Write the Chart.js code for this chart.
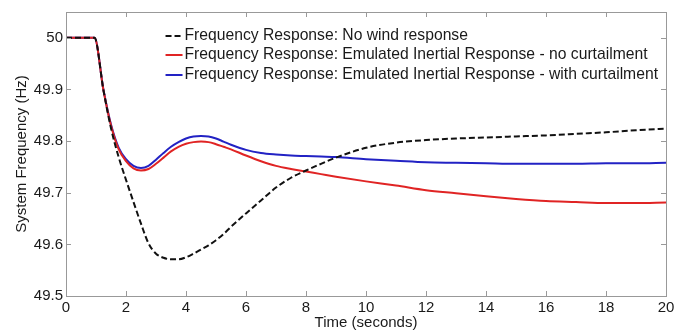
<!DOCTYPE html>
<html>
<head>
<meta charset="utf-8">
<script src="https://cdn.jsdelivr.net/npm/chart.js@4.4.1/dist/chart.umd.min.js"></script>
<style>
    html, body { margin: 0; padding: 0; background: #fff; }
    #wrap { width: 688px; height: 333px; }
</style>
</head>
<body>
<div id="wrap"><canvas id="freqChart"></canvas></div>
<script>
// time axis (s) shared by all three responses
var timeSec = [0, 0.95, 1.25, 1.5, 1.75, 2, 2.25, 2.5, 2.75, 3, 3.25, 3.5, 3.75, 4, 4.25, 4.5, 4.75,
    5, 5.25, 5.5, 6, 6.5, 7, 7.5, 8, 8.5, 9, 10, 11, 12, 13, 14, 15, 16, 17, 18, 19, 20];

var noWind = [50, 50, 49.898, 49.825, 49.770, 49.725, 49.682, 49.640, 49.602, 49.582, 49.574, 49.571, 49.571,
    49.575, 49.582, 49.590, 49.598, 49.608, 49.620, 49.634, 49.660, 49.685, 49.710, 49.729, 49.743, 49.756,
    49.768, 49.787, 49.797, 49.802, 49.805, 49.807, 49.809, 49.811, 49.814, 49.817, 49.821, 49.824];

var noCurtailment = [50, 50, 49.898, 49.830, 49.785, 49.761, 49.747, 49.743, 49.746, 49.756, 49.768, 49.780, 49.789,
    49.795, 49.798, 49.799, 49.798, 49.794, 49.789, 49.784, 49.772, 49.761, 49.752, 49.746, 49.741, 49.736,
    49.731, 49.722, 49.714, 49.705, 49.699, 49.693, 49.688, 49.684, 49.682, 49.680, 49.680, 49.681];

var withCurtailment = [50, 50, 49.899, 49.832, 49.788, 49.765, 49.752, 49.748, 49.752, 49.764, 49.777, 49.789, 49.798,
    49.805, 49.809, 49.810, 49.809, 49.805, 49.799, 49.793, 49.783, 49.777, 49.774, 49.772, 49.771, 49.770,
    49.769, 49.765, 49.762, 49.759, 49.758, 49.757, 49.756, 49.756, 49.756, 49.757, 49.757, 49.758];

var seriesLabels = [
    'Frequency Response: No wind response',
    'Frequency Response: Emulated Inertial Response - no curtailment',
    'Frequency Response: Emulated Inertial Response - with curtailment'
];

var yTickValues = [49.5, 49.6, 49.7, 49.8, 49.9, 50];

var FONT = "'Liberation Sans', Arial, sans-serif";

function toPoints(values) {
    return values.map(function (v, i) { return { x: timeSec[i], y: v }; });
}

// box around the plot with inward tick marks on all four sides
var axesBox = {
    id: 'axesBox',
    afterDatasetsDraw: function (chart) {
        var ctx = chart.ctx, a = chart.chartArea;
        var xs = chart.scales.x, ys = chart.scales.y;
        var len = 5;
        ctx.save();
        ctx.strokeStyle = '#999999';
        ctx.lineWidth = 1;
        ctx.strokeRect(Math.round(a.left) + 0.5, Math.round(a.top) + 0.5,
            Math.round(a.right - a.left), Math.round(a.bottom - a.top));
        ctx.beginPath();
        xs.ticks.forEach(function (t) {
            var px = Math.round(xs.getPixelForValue(t.value)) + 0.5;
            ctx.moveTo(px, a.bottom); ctx.lineTo(px, a.bottom - len);
            ctx.moveTo(px, a.top); ctx.lineTo(px, a.top + len);
        });
        ys.ticks.forEach(function (t) {
            var py = Math.round(ys.getPixelForValue(t.value)) + 0.5;
            ctx.moveTo(a.left, py); ctx.lineTo(a.left + len, py);
            ctx.moveTo(a.right, py); ctx.lineTo(a.right - len, py);
        });
        ctx.stroke();
        ctx.restore();
    }
};

// legend inside the top right corner, no frame
var insideLegend = {
    id: 'insideLegend',
    afterDraw: function (chart) {
        var ctx = chart.ctx, a = chart.chartArea;
        ctx.save();
        ctx.font = '15.7px ' + FONT;
        ctx.textBaseline = 'middle';
        ctx.fillStyle = '#1a1a1a';
        var maxW = 0;
        chart.data.datasets.forEach(function (ds) {
            maxW = Math.max(maxW, ctx.measureText(ds.label).width);
        });
        var textX = a.right - 8 - maxW;
        chart.data.datasets.forEach(function (ds, i) {
            var y = a.top + 23.5 + i * 19.5;
            ctx.beginPath();
            ctx.strokeStyle = ds.borderColor;
            ctx.lineWidth = ds.borderWidth;
            ctx.setLineDash(ds.borderDash || []);
            ctx.moveTo(textX - 19, Math.round(y));
            ctx.lineTo(textX - 2, Math.round(y));
            ctx.stroke();
            ctx.setLineDash([]);
            ctx.fillText(ds.label, textX, y);
        });
        ctx.restore();
    }
};

var ctx = document.getElementById('freqChart').getContext('2d');
var freqChart = new Chart(ctx, {
    type: 'line',
    data: {
        datasets: [
            {
                label: seriesLabels[0],
                data: toPoints(noWind),
                borderColor: '#111111',
                borderWidth: 2,
                borderDash: [6, 3]
            },
            {
                label: seriesLabels[1],
                data: toPoints(noCurtailment),
                borderColor: '#e02424',
                borderWidth: 2
            },
            {
                label: seriesLabels[2],
                data: toPoints(withCurtailment),
                borderColor: '#2222c4',
                borderWidth: 2
            }
        ]
    },
    options: {
        responsive: true,
        maintainAspectRatio: false,
        animation: false,
        devicePixelRatio: 1,
        layout: { padding: { top: 9, right: 22, left: 0, bottom: 0 } },
        elements: {
            point: { radius: 0 },
            line: { cubicInterpolationMode: 'monotone', borderCapStyle: 'butt' }
        },
        plugins: {
            legend: { display: false },
            tooltip: { enabled: false }
        },
        scales: {
            x: {
                type: 'linear',
                min: 0,
                max: 20,
                grid: { display: false, drawTicks: false },
                border: { display: false },
                ticks: {
                    stepSize: 2,
                    padding: 3,
                    maxRotation: 0,
                    color: '#1a1a1a',
                    font: { family: FONT, size: 15 }
                },
                title: {
                    display: true,
                    text: 'Time (seconds)',
                    color: '#1a1a1a',
                    font: { family: FONT, size: 15 },
                    padding: { top: 0, bottom: 1 }
                },
                afterFit: function (scale) { scale.height = 37; }
            },
            y: {
                type: 'linear',
                min: 49.5,
                max: 50.05,
                grid: { display: false, drawTicks: false },
                border: { display: false },
                afterBuildTicks: function (scale) {
                    scale.ticks = yTickValues.map(function (v) { return { value: v }; });
                },
                ticks: {
                    padding: 3,
                    color: '#1a1a1a',
                    font: { family: FONT, size: 15 },
                    callback: function (v) { return v === 50 ? '50' : Number(v).toFixed(1); }
                },
                title: {
                    display: true,
                    text: 'System Frequency (Hz)',
                    color: '#1a1a1a',
                    font: { family: FONT, size: 15 },
                    padding: { top: 13, bottom: 0 }
                },
                afterFit: function (scale) { scale.width = 66; }
            }
        }
    },
    plugins: [axesBox, insideLegend]
});
</script>
</body>
</html>
